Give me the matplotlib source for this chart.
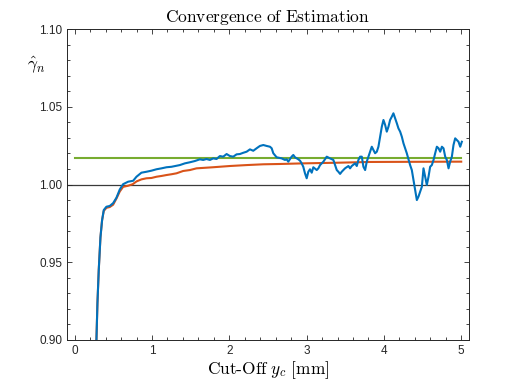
import numpy as np
import matplotlib
matplotlib.use("Agg")
import matplotlib.pyplot as plt

# ---- colours (MATLAB defaults) ---------------------------------------------
BLUE = "#0072BD"
ORANGE = "#D95319"
GREEN = "#77AC30"
AX_INK = "#262626"

plt.rcParams.update({
    "font.family": ["Liberation Sans", "DejaVu Sans"],
    "mathtext.fontset": "cm",
    "axes.edgecolor": AX_INK,
    "xtick.color": AX_INK,
    "ytick.color": AX_INK,
})

# ---- data ------------------------------------------------------------------
blue_x = [0.27, 0.281, 0.294, 0.311, 0.333, 0.354, 0.376, 0.41, 0.453, 0.497, 0.54,
          0.583, 0.626, 0.691, 0.756, 0.799, 0.863, 0.928, 0.993, 1.058, 1.123,
          1.188, 1.252, 1.317, 1.36, 1.425, 1.49, 1.554, 1.619, 1.662, 1.705,
          1.749, 1.792, 1.835, 1.878, 1.921, 1.965, 2.008, 2.051, 2.094, 2.137,
          2.18, 2.224, 2.267, 2.31, 2.353, 2.396, 2.44, 2.483, 2.526, 2.548,
          2.569, 2.612, 2.677, 2.72, 2.742, 2.763, 2.806, 2.828, 2.85, 2.893,
          2.915, 2.936, 2.957, 2.979, 3.001, 3.022, 3.044, 3.066, 3.087, 3.131,
          3.152, 3.174, 3.217, 3.26, 3.303, 3.346, 3.368, 3.39, 3.411, 3.433,
          3.454, 3.497, 3.541, 3.562, 3.584, 3.627, 3.649, 3.67, 3.692, 3.714,
          3.735, 3.757, 3.778, 3.8, 3.821, 3.843, 3.865, 3.886, 3.908, 3.929,
          3.951, 3.973, 3.994, 4.016, 4.037, 4.059, 4.08, 4.102, 4.123, 4.145,
          4.167, 4.188, 4.21, 4.232, 4.253, 4.296, 4.339, 4.361, 4.382, 4.404,
          4.426, 4.447, 4.469, 4.491, 4.512, 4.534, 4.555, 4.577, 4.598, 4.62,
          4.642, 4.663, 4.685, 4.707, 4.728, 4.75, 4.771, 4.793, 4.814, 4.836,
          4.857, 4.879, 4.9, 4.922, 4.944, 4.965, 4.987, 5.008]
blue_y = [0.88, 0.9, 0.9236, 0.945, 0.966, 0.977, 0.9836, 0.9857, 0.9862, 0.988, 0.9915,
          0.9968, 1.0002, 1.0018, 1.0024, 1.005, 1.0076, 1.0082, 1.0089, 1.0098, 1.0104,
          1.0111, 1.0114, 1.0121, 1.0125, 1.0136, 1.0143, 1.0151, 1.0162, 1.0158, 1.0164,
          1.0158, 1.0168, 1.0164, 1.0183, 1.0179, 1.0196, 1.0183, 1.0179, 1.0194, 1.0196,
          1.0204, 1.0211, 1.0226, 1.0217, 1.0233, 1.0248, 1.0254, 1.0248, 1.0243, 1.0233,
          1.0201, 1.0175, 1.0168, 1.0158, 1.0162, 1.0147, 1.0179, 1.019, 1.0175, 1.0162,
          1.0153, 1.0136, 1.0114, 1.0072, 1.004, 1.0082, 1.0098, 1.0076, 1.0111, 1.0093,
          1.0104, 1.0125, 1.0147, 1.0179, 1.0168, 1.0158, 1.0125, 1.0093, 1.0082, 1.0068,
          1.0082, 1.0104, 1.0119, 1.0104, 1.0119, 1.0136, 1.0119, 1.0158, 1.0179, 1.0179,
          1.0114, 1.0093, 1.0147, 1.0179, 1.0211, 1.0243, 1.0222, 1.0201, 1.0211, 1.0243,
          1.0307, 1.0372, 1.0415, 1.0383, 1.034, 1.0372, 1.0415, 1.0436, 1.0458, 1.0426,
          1.0394, 1.0361, 1.034, 1.0307, 1.0265, 1.0201, 1.0125, 1.0093, 1.0029, 0.9965,
          0.99, 0.9922, 0.9954, 0.9986, 1.0104, 1.005, 0.9997, 1.005, 1.0114, 1.0125,
          1.0158, 1.0201, 1.0243, 1.0233, 1.0211, 1.0243, 1.0233, 1.0179, 1.0158, 1.0104,
          1.0147, 1.0179, 1.0254, 1.0297, 1.0286, 1.0275, 1.0243, 1.0275]

orange_x = [0.27, 0.281, 0.294, 0.311, 0.333, 0.354, 0.376, 0.41, 0.453, 0.497, 0.54,
            0.583, 0.626, 0.69, 0.75, 0.8, 0.863, 0.928, 0.993, 1.058, 1.123, 1.188,
            1.252, 1.317, 1.403, 1.49, 1.576, 1.79, 2.008, 2.224, 2.44, 2.655, 2.957,
            3.389, 3.82, 4.4, 5.0]
orange_y = [0.88, 0.9, 0.9236, 0.945, 0.966, 0.977, 0.983, 0.985, 0.9855, 0.987, 0.991,
            0.9955, 0.9985, 0.9992, 1.0002, 1.002, 1.0033, 1.004, 1.0042, 1.005, 1.0055,
            1.0061, 1.0066, 1.0072, 1.0087, 1.0093, 1.0104, 1.0111, 1.0119, 1.0125, 1.013,
            1.0132, 1.0136, 1.014, 1.0145, 1.0146, 1.0147]

green_x = [0.0, 5.0]
green_y = [1.0172, 1.0172]

ref_level = 1.0
x_ticks = [0, 1, 2, 3, 4, 5]
y_ticks = [0.90, 0.95, 1.00, 1.05, 1.10]

# ---- figure ----------------------------------------------------------------
fig = plt.figure(figsize=(5.18, 3.82), dpi=100)
ax = fig.add_axes([0.1293, 0.110, 0.776, 0.814])

ax.axhline(ref_level, color="#3a3a3a", lw=0.9, zorder=1)
ax.plot(green_x, green_y, color=GREEN, lw=1.5, zorder=2)
ax.plot(orange_x, orange_y, color=ORANGE, lw=1.5, zorder=3)
ax.plot(blue_x, blue_y, color=BLUE, lw=1.5, zorder=4)

ax.set_xlim(-0.1, 5.1)
ax.set_ylim(0.90, 1.10)
ax.set_xticks(x_ticks)
ax.set_yticks(y_ticks)
ax.set_yticklabels([f"{v:.2f}" for v in y_ticks])
ax.set_xticks(np.arange(0, 5.01, 0.2), minor=True)
ax.set_yticks(np.arange(0.90, 1.1001, 0.01), minor=True)
ax.tick_params(which="both", direction="in", top=True, right=True, labelsize=8.5,
               width=0.6)
ax.tick_params(which="major", length=3.5)
ax.tick_params(which="minor", length=2)
for s in ax.spines.values():
    s.set_linewidth(0.7)

ax.set_title(r"$\mathrm{Convergence\ of\ Estimation}$", fontsize=12.5, pad=5)
ax.set_xlabel(r"$\mathrm{Cut}\text{-}\mathrm{Off}\ y_c\ [\mathrm{mm}]$", fontsize=12.5,
              labelpad=2)
ax.set_ylabel(r"$\hat{\gamma}_n$", fontsize=12.5, rotation=0)
ax.yaxis.set_label_coords(-0.075, 0.85)

fig.savefig("out.png", dpi=100)
